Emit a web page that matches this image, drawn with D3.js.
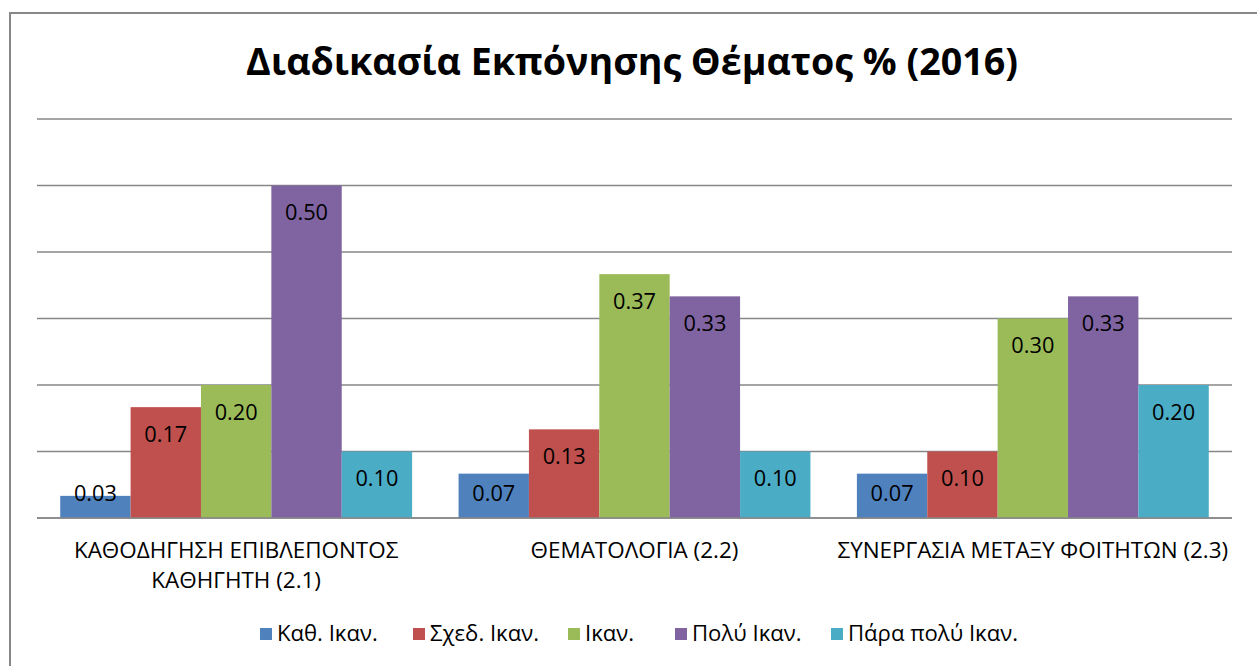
<!DOCTYPE html>
<html><head><meta charset="utf-8">
<script src="https://cdn.jsdelivr.net/npm/d3@7"></script>
<style>html,body{margin:0;padding:0;background:#fff;overflow:hidden}</style>
</head><body>
<script>
const title = "Διαδικασία Εκπόνησης Θέματος % (2016)";
const categories = ["ΚΑΘΟΔΗΓΗΣΗ ΕΠΙΒΛΕΠΟΝΤΟΣ|ΚΑΘΗΓΗΤΗ (2.1)", "ΘΕΜΑΤΟΛΟΓΙΑ (2.2)", "ΣΥΝΕΡΓΑΣΙΑ ΜΕΤΑΞΥ ΦΟΙΤΗΤΩΝ (2.3)"];
const seriesNames = ["Καθ. Ικαν.", "Σχεδ. Ικαν.", "Ικαν.", "Πολύ Ικαν.", "Πάρα πολύ Ικαν."];
const seriesColors = ["#4F81BD", "#C0504D", "#9BBB59", "#8064A2", "#4BACC6"];
const kathIkan = [0.0333, 0.0667, 0.0667];
const sxedIkan = [0.1667, 0.1333, 0.1];
const ikan = [0.2, 0.3667, 0.3];
const polyIkan = [0.5, 0.3333, 0.3333];
const paraPolyIkan = [0.1, 0.1, 0.2];
const yTicks = [0, 0.1, 0.2, 0.3, 0.4, 0.5, 0.6];

const series = [kathIkan, sxedIkan, ikan, polyIkan, paraPolyIkan];
const W = 1257, H = 666;
const FONT = "'Open Sans', 'Noto Sans', sans-serif";
const svg = d3.select("body").append("svg").attr("width", W).attr("height", H);

// measure helper: font size so that a text reaches a target width
function fitSize(str, target, weight) {
  const t = svg.append("text").attr("font-family", FONT).attr("font-weight", weight || "normal")
    .attr("font-size", 100).text(str);
  const w = t.node().getComputedTextLength();
  t.remove();
  return 100 * target / w;
}
const titleSize = fitSize(title, 772, "bold");
const catSize = fitSize("ΘΕΜΑΤΟΛΟΓΙΑ (2.2)", 208);
const labelSize = fitSize("0.50", 43);
const legendSize = fitSize("Πάρα πολύ Ικαν.", 170);

svg.append("rect").attr("x", 10).attr("y", 13).attr("width", W + 20).attr("height", H + 20)
  .attr("fill", "#fff").attr("stroke", "#878787").attr("stroke-width", 2);

svg.append("text").attr("x", 632).attr("y", 75).attr("text-anchor", "middle")
  .attr("font-family", FONT).attr("font-weight", "bold").attr("font-size", titleSize)
  .attr("fill", "#000").text(title);

const pLeft = 37, pRight = 1232, pTop = 119, pBottom = 518;
const x0 = d3.scaleBand().domain(d3.range(categories.length)).range([pLeft, pRight]).paddingInner(0).paddingOuter(0);
const x1 = d3.scaleBand().domain(d3.range(series.length)).range([0, x0.bandwidth()]).paddingOuter(0.33).paddingInner(0);
const y = d3.scaleLinear().domain([0, 0.6]).range([pBottom, pTop]);

svg.append("g").selectAll("line").data(yTicks).join("line")
  .attr("x1", pLeft).attr("x2", pRight).attr("y1", d => y(d)).attr("y2", d => y(d))
  .attr("stroke", "#878787").attr("stroke-width", 1.5);

const groups = svg.append("g").selectAll("g").data(categories).join("g")
  .attr("transform", (d, i) => `translate(${x0(i)},0)`);

groups.each(function(c, ci) {
  const g = d3.select(this);
  series.forEach((s, si) => {
    const v = s[ci];
    g.append("rect").attr("x", x1(si)).attr("y", y(v)).attr("width", x1.bandwidth())
      .attr("height", y(0) - y(v)).attr("fill", seriesColors[si]);
  });
  series.forEach((s, si) => {
    const v = s[ci];
    g.append("text").attr("x", x1(si) + x1.bandwidth() / 2)
      .attr("y", Math.min(y(v) + 27, 493)).attr("dy", "0.36em")
      .attr("text-anchor", "middle").attr("font-family", FONT).attr("font-size", labelSize)
      .attr("fill", "#000").text(d3.format(".2f")(v));
  });
});

svg.append("line").attr("x1", pLeft).attr("x2", pRight).attr("y1", y(0)).attr("y2", y(0))
  .attr("stroke", "#878787").attr("stroke-width", 1.5);

groups.each(function(c, ci) {
  const lines = c.split("|");
  const t = d3.select(this).append("text").attr("text-anchor", "middle")
    .attr("font-family", FONT).attr("font-size", catSize).attr("fill", "#000");
  lines.forEach((l, li) => {
    t.append("tspan").attr("x", x0.bandwidth() / 2).attr("y", 558 + li * 30).text(l);
  });
});

const legendX = [260, 413, 568, 675, 831];
const lg = svg.append("g");
seriesNames.forEach((n, i) => {
  lg.append("rect").attr("x", legendX[i]).attr("y", 628).attr("width", 12).attr("height", 12).attr("fill", seriesColors[i]);
  lg.append("text").attr("x", legendX[i] + 17).attr("y", 641)
    .attr("font-family", FONT).attr("font-size", legendSize).attr("fill", "#000").text(n);
});
</script>
</body></html>
